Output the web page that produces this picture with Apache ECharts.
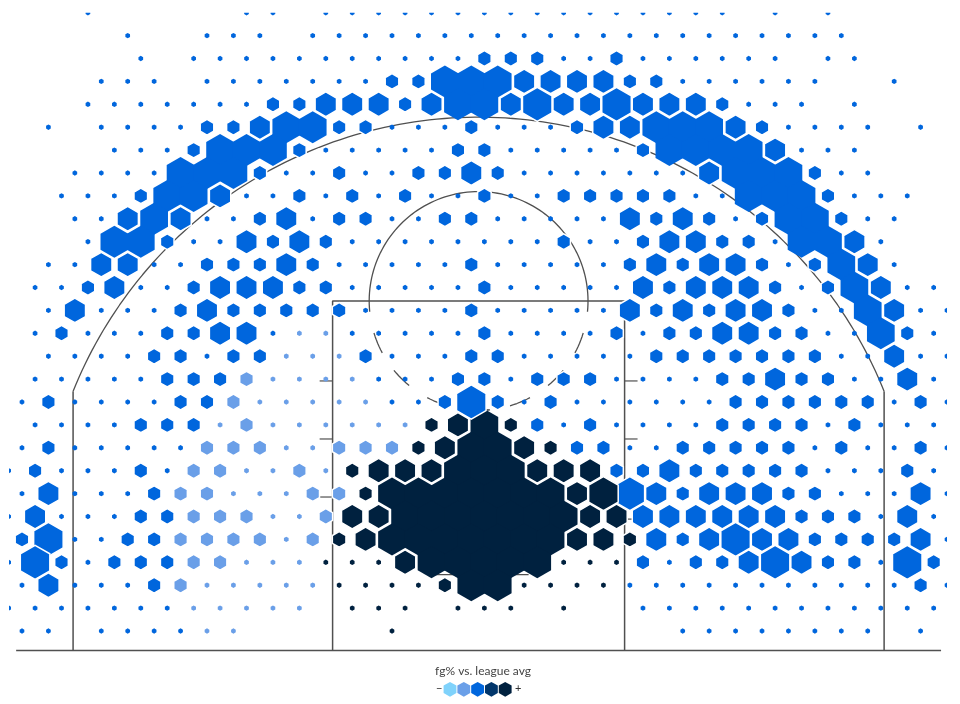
<!DOCTYPE html>
<html>
<head>
<meta charset="utf-8">
<style>html,body{margin:0;padding:0;background:#fff}#c{width:960px;height:704px}</style>
<script src="https://cdn.jsdelivr.net/npm/echarts@6/dist/echarts.min.js"></script>
</head>
<body>
<div id="c"></div>
<script>
// Hexbin columns, one list per grid row (row 0 = far end of the court).
const blueTiny = [
 [3,9,10,12,13,14,15,16,17,18,19,20,21,22,23,24,25,26,27,29,31],
 [4,7,8,9,11,12,13,14,15,16,17,18,19,20,21,22,23,24,25,26,27,28,29,30,31],
 [5,7,8,9,10,11,12,13,14,15,16,17,21,22,24,25,26,27,28,29,31,32],
 [3,4,5,7,8,9,10,11,12,13,25,26,27,28,29,30,33],
 [3,4,5,6,7,8,9,28,29,30,32],
 [1,3,4,5,6,14,15,16,18,19,20,29,30,31,32,34],
 [4,5,6,12,13,14,15,16,19,20,21,22,23,30,31,32],
 [2,3,4,5,10,11,13,14,19,20,21,22,23,24,25,31,32],
 [2,3,4,9,10,12,14,16,17,19,20,26,27,32,33,34],
 [2,3,7,8,11,14,15,18,19,20,21,22,27,32,33],
 [3,7,8,13,14,15,16,17,18,19,20,22,23,29,33],
 [1,2,5,6,12,13,14,15,16,18,19,20,21,22,29,33],
 [1,2,5,6,13,14,15,16,17,19,20,21,22,23,30,34,35],
 [1,3,4,5,13,14,15,16,18,19,20,21,22,30,31,34,35],
 [1,3,4,5,10,13,14,15,16,17,19,20,21,22,24,31,32,35],
 [1,2,3,4,7,14,15,16,19,20,21,22,23,31,32,34,35],
 [1,2,3,4,5,14,15,16,19,23,24,25,26,32,33,35],
 [0,2,3,4,5,14,15,19,21,22,23,24,25,26,33,35],
 [1,2,3,4,21,23,24,25,26,31,33,34,35],
 [0,2,3,4,5,6,23,24,30,32,33,35],
 [0,2,3,4,6,31,32,33,35],
 [0,2,3,4,31,32,33,35],
 [0,2,3,4,33,35],
 [2,3,35],
 [0,3,25,33],
 [0,2,3,4,23,24,25,26,27,28,29,30,31,32,33,35],
 [0,1,2,3,4,5,6,24,25,26,27,28,29,30,31,32,33,34,35],
 [0,1,3,4,5,6,25,26,27,28,29,30,31,32,34]
];
const blueSmall = [
 [],[],[18,19,20,23],[14,15,23,24],[10,11,15,27],[7,8,12,13,17,21,28],[7,11,17,18,24],
 [9,12,15,16,18,30],[5,11,13,15,18,21,22,23,24,25,31],[9,12,13,16,17,24,26,28,31],
 [6,10,12,21,24,27,28],[7,8,9,11,17,23,25,28,30],[3,7,11,12,18,25,29,31],
 [6,8,9,10,11,12,17,24,26,29],[2,6,7,18,23,25,26,29,30,34],
 [5,6,8,9,13,17,18,24,25,26,27,28,29,30],[6,7,8,17,18,20,21,22,27,28,30,31],
 [1,6,7,16,18,20,27,28,29,30,31,32,34],[5,6,7,20,22,27,28,29,30,32],
 [1,21,22,25,26,27,28,29,31,34],[1,5,23,24,26,27,28,29,30,34],[5,25,29,30],
 [5,6,30,31,32],[0,4,5,25,30,31,32,33],[2,4,5,6,24,26,27,31,32,35],[5,34],[],[]
];
const blueMid = [
 [],[],[],[19,20,21,22],[12,13,14,16,19,21,22,24,25,26],[9,22,23,27],[29],[17,26],[8],
 [4,6,10,23,25],[9,11,25,26,32],[3,4,10,24,26,27,32],[4,8,9,10,24,26,27,28,33],
 [2,7,23,25,27,28,33],[8,9,27,28],[33],[29,34],[],[],[],[25],[1,24,26,27,28,34],
 [1,24,25,26,27,28,29,34],[24,26,28,29,34],[28,30],[1],[],[]
];
const blueLarge = [
 [],[],[],[],[20,23],[],[],[],[],[],[],[],[],[],[],[],[],[17],[],[],[],[23],[],[1,27],[1,29,34],[],[],[]
];
const blueMerged = [
 [],[],[],[16,17,18],[17,18],[10,11,24,25,26],[8,9,10,25,26,27,28],[6,7,8,27,28,29],
 [6,7,28,29,30],[5,29,30],[4,5,30,31],[31],[32],[32],[33],[],[],[],[],[],[],[],[],[],[],[],[],[]
];
const lightTiny = [
 [],[],[],[],[],[],[],[],[],[],[],[],[],[],[11,12],[10,11,12],[10,11,12,13],[9,10,11,12,13],
 [8,10,11,12,13,14,15],[10,11],[9,10,12],[8,9,10],[10,11],[10],[9,10,11],[7,8,9,10,11],[7,8,9,10,11],[7,8]
];
const lightSmall = [
 [],[],[],[],[],[],[],[],[],[],[],[],[],[],[],[],[9],[8],[9],[7,8,9,12,13,14],[7,8,11],
 [6,7,11,12],[7,8,9,12],[6,7,8,9,11],[7,8],[6],[],[]
];
const navyTiny = [
 [],[],[],[],[],[],[],[],[],[],[],[],[],[],[],[],[],[],[],[],[],[],[],[],
 [12,13,14,21,22,23],[12,13,14,15,19,20,21,22],[13,14,15,17,18,19,21],[14]
];
const navySmall = [
 [],[],[],[],[],[],[],[],[],[],[],[],[],[],[],[],[],[],[16,19],[15,20],[13],[13],[],[12,23],[],[16],[],[]
];
const navyMid = [
 [],[],[],[],[],[],[],[],[],[],[],[],[],[],[],[],[],[],[17],[16,19],[14,15,16,20,21,22],[21],
 [13,14,22,23],[13,21,22],[15],[],[],[]
];
const navyLarge = [
 [],[],[],[],[],[],[],[],[],[],[],[],[],[],[],[],[],[],[],[],[],[22],[],[],[],[],[],[]
];
const navyMerged = [
 [],[],[],[],[],[],[],[],[],[],[],[],[],[],[],[],[],[],[18],[17,18],[17,18,19],
 [14,15,16,17,18,19,20],[15,16,17,18,19,20,21],[14,15,16,17,18,19,20],[16,17,18,19,20],[17,18],[],[]
];

const legendColors = ['#7fd2fb','#6a9fe8','#0066dd','#01366b','#00213f'];
const legendTitle = 'fg% vs. league avg';
const tierColors = ['#6a9fe8','#0066dd','#00213f'];
const sizeRadius = [2.7, 7.85, 12.35, 17.05, 16];   // tiny, small, mid, large, merged

// court geometry, feet from the baseline centre
const pxPerFoot = 18.25;
const rowStepFt = 1.2548, colStepFt = 1.4482, lastRowFt = 1.068;
const evenColFt = -25.751, oddColFt = -25.02;
const arcCentreFt = 5.28, arcRadiusFt = 23.945, cornerX = 22.22, cornerTop = 14.18;
const laneHalf = 8, laneTop = 19.15, ftRadius = 5.995;
const laneTicks = [14.77, 11.59, 8.41, 7.2];
const ftDashStartDeg = [17, 39.3, 62, 84.7];

function binsOf(lists, sizeClass, tier) {
  const out = [];
  lists.forEach((cols, row) => cols.forEach(k => {
    const xFt = (row % 2 ? oddColFt : evenColFt) + k * colStepFt;
    const yFt = lastRowFt + (27 - row) * rowStepFt;
    out.push([xFt, yFt, sizeClass, tier]);
  }));
  return out;
}
const bins = [].concat(
  binsOf(blueMerged,4,1), binsOf(navyMerged,4,2),
  binsOf(blueLarge,3,1), binsOf(navyLarge,3,2),
  binsOf(blueMid,2,1), binsOf(navyMid,2,2),
  binsOf(blueSmall,1,1), binsOf(lightSmall,1,0), binsOf(navySmall,1,2),
  binsOf(blueTiny,0,1), binsOf(lightTiny,0,0), binsOf(navyTiny,0,2)
);

function hexPoints(cx, cy, r) {
  const p = [];
  for (let i = 0; i < 6; i++) {
    const a = Math.PI / 6 + i * Math.PI / 3;
    p.push([cx + r * Math.cos(a), cy + r * Math.sin(a)]);
  }
  return p;
}
function arcPts(cx, cy, r, fromDeg, toDeg) {
  const p = [], n = Math.max(2, Math.ceil(Math.abs(toDeg - fromDeg)));
  for (let i = 0; i <= n; i++) {
    const a = (fromDeg + (toDeg - fromDeg) * i / n) * Math.PI / 180;
    p.push([cx + r * Math.cos(a), cy + r * Math.sin(a)]);
  }
  return p;
}
const arcEnd = Math.asin((cornerTop - arcCentreFt) / arcRadiusFt) * 180 / Math.PI;
const courtPaths = [
  {w:1.5, d:[[-25.34,0],[25.34,0]]},
  {w:1.5, d:[[-cornerX,0],[-cornerX,cornerTop]]},
  {w:1.5, d:[[cornerX,0],[cornerX,cornerTop]]},
  {w:1.3, d:arcPts(0,arcCentreFt,arcRadiusFt,arcEnd,180-arcEnd)},
  {w:1.5, d:[[-laneHalf,0],[-laneHalf,laneTop],[laneHalf,laneTop],[laneHalf,0]]},
  {w:1.3, d:arcPts(0,laneTop,ftRadius,-5.6,185.6)},
  {w:1.3, d:[[-2.74,4.16],[2.74,4.16]]}
];
laneTicks.forEach(y => {
  courtPaths.push({w:1.2,d:[[-laneHalf-0.71,y],[-laneHalf,y]]});
  courtPaths.push({w:1.2,d:[[laneHalf,y],[laneHalf+0.71,y]]});
});
ftDashStartDeg.forEach(s => {
  courtPaths.push({w:1.3,d:arcPts(0,laneTop,ftRadius,-s,-s-11.3)});
  courtPaths.push({w:1.3,d:arcPts(0,laneTop,ftRadius,-180+s,-180+s+11.3)});
});

const gridBox = {left:9, right:13, top:12.7, bottom:52};
const cx0 = 478.6, base = 650.5;

const lineSeries = courtPaths.map(p => ({
  type:'line', data:p.d, showSymbol:false, symbol:'none', silent:true, clip:false, z:1,
  animation:false, lineStyle:{color:'#505050', width:p.w}
}));

const hexSeries = {
  type:'custom', data:bins, clip:true, z:2, animation:false, silent:true,
  encode:{x:0,y:1},
  renderItem(params, api) {
    const c = api.coord([api.value(0), api.value(1)]);
    const sz = api.value(2), tier = api.value(3);
    const col = tierColors[tier];
    const bare = sz === 4 || sz === 0;
    return {
      type:'polygon',
      shape:{points:hexPoints(c[0], c[1], sizeRadius[sz])},
      style:{fill:col, stroke:bare ? null : '#fff', lineWidth:bare ? 0 : 1.5}
    };
  }
};

const legendEls = legendColors.map((c, i) => ({
  type:'polygon', z:5,
  shape:{points:hexPoints(450 + i * 13.8, 689.3, 7.4)},
  style:{fill:c, stroke:null}
}));
legendEls.push({type:'text', z:5, left:436, top:683, style:{text:'−', font:'11px Lato', fill:'#333'}});
legendEls.push({type:'text', z:5, left:515, top:683, style:{text:'+', font:'11px Lato', fill:'#333'}});

const chart = echarts.init(document.getElementById('c'), null, {renderer:'canvas'});
chart.setOption({
  backgroundColor:'#fff', animation:false,
  title:{text:legendTitle, left:478, top:660, textAlign:'center',
    textStyle:{fontFamily:'Lato', fontSize:12, fontWeight:'normal', color:'#444'}},
  grid:gridBox,
  xAxis:{type:'value', show:false,
    min:(gridBox.left - cx0)/pxPerFoot,
    max:(960 - gridBox.right - cx0)/pxPerFoot},
  yAxis:{type:'value', show:false,
    min:(base - (704 - gridBox.bottom))/pxPerFoot,
    max:(base - gridBox.top)/pxPerFoot},
  graphic:legendEls,
  series:[...lineSeries, hexSeries]
});
</script>
</body>
</html>
